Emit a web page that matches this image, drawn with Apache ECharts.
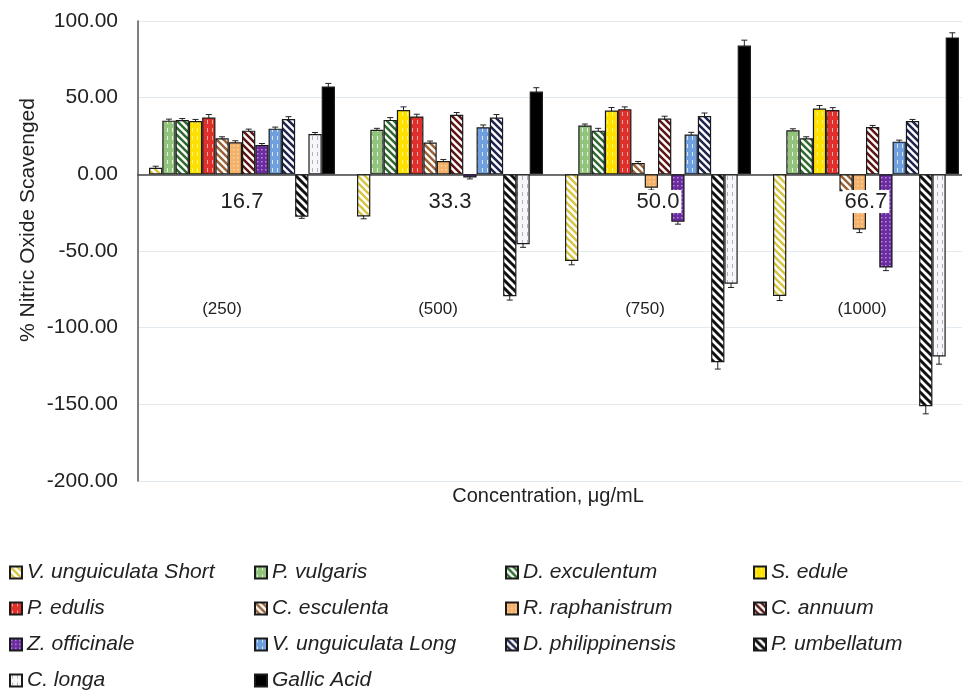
<!DOCTYPE html>
<html>
<head>
<meta charset="utf-8">
<script src="https://cdn.jsdelivr.net/npm/echarts@6/dist/echarts.min.js"></script>
<style>html,body{margin:0;padding:0;background:#fff;}#chart{width:962px;height:691px;}</style>
</head>
<body>
<div id="chart"></div>
<script>
// ---- data ----
const categories = ['16.7', '33.3', '50.0', '66.7'];
const concLabels = ['(250)', '(500)', '(750)', '(1000)'];
const seriesNames = ['V. unguiculata Short', 'P. vulgaris', 'D. exculentum', 'S. edule',
  'P. edulis', 'C. esculenta', 'R. raphanistrum', 'C. annuum',
  'Z. officinale', 'V. unguiculata Long', 'D. philippinensis', 'P. umbellatum',
  'C. longa', 'Gallic Acid'];
const vuShort = [4.3, -27.5, -56.5, -79.3];
const pVulgaris = [35.0, 29.0, 31.8, 28.7];
const dExculentum = [35.4, 35.5, 28.5, 23.5];
const sEdule = [34.8, 42.0, 41.6, 42.9];
const pEdulis = [37.0, 37.7, 42.5, 42.0];
const cEsculenta = [23.5, 20.7, 7.4, -11.0];
const rRaphanistrum = [20.9, 8.7, -8.7, -36.0];
const cAnnuum = [28.5, 38.8, 36.4, 30.9];
const zOfficinale = [19.1, -2.0, -31.0, -60.8];
const vuLong = [29.8, 30.7, 25.9, 21.3];
const dPhilippinensis = [36.1, 37.0, 38.0, 34.8];
const pUmbellatum = [-27.7, -79.5, -122.5, -151.2];
const cLonga = [26.3, -45.6, -71.3, -118.8];
const gallicAcid = [57.3, 54.0, 84.0, 89.3];
// standard errors (estimated)
const errVuShort = [1, 1.5, 2.5, 3];
const errPVulgaris = [1, 1, 1, 1];
const errDExculentum = [1, 1.5, 1.5, 1];
const errSEdule = [1, 2, 2, 2];
const errPEdulis = [2, 1.5, 1.5, 1.5];
const errCEsculenta = [1, 1, 1, 1];
const errRRaphanistrum = [1, 1, 1.5, 2];
const errCAnnuum = [1, 1.5, 1.5, 1];
const errZOfficinale = [1, 1, 1.5, 2];
const errVuLong = [1, 1.5, 1.5, 1];
const errDPhilippinensis = [1.5, 2, 2, 1];
const errPUmbellatum = [1, 2.5, 4.5, 5];
const errCLonga = [1, 2, 2.5, 5];
const errGallicAcid = [2, 2.5, 3.5, 3];

const seriesValues = [vuShort, pVulgaris, dExculentum, sEdule, pEdulis, cEsculenta,
  rRaphanistrum, cAnnuum, zOfficinale, vuLong, dPhilippinensis, pUmbellatum, cLonga, gallicAcid];
const seriesErrors = [errVuShort, errPVulgaris, errDExculentum, errSEdule, errPEdulis, errCEsculenta,
  errRRaphanistrum, errCAnnuum, errZOfficinale, errVuLong, errDPhilippinensis, errPUmbellatum, errCLonga, errGallicAcid];

// ---- styles ----
function pat(bg, kind, fg, o) {
  o = o || {};
  const w = o.w || o.s || 6, h = o.h || o.s || 6;
  const c = document.createElement('canvas');
  c.width = w; c.height = h;
  const ctx = c.getContext('2d');
  ctx.fillStyle = bg; ctx.fillRect(0, 0, w, h);
  if (kind === 'diag') {
    ctx.strokeStyle = fg; ctx.lineWidth = o.lw || 2;
    ctx.beginPath();
    for (const k of [-w, 0, w]) { ctx.moveTo(k - 1, -1); ctx.lineTo(k + w + 1, h + 1); }
    ctx.stroke();
  } else if (kind === 'vdash') {
    ctx.fillStyle = fg; ctx.fillRect(Math.floor(w / 2), 0, 1, Math.ceil(h / 2));
  } else if (kind === 'dots') {
    ctx.fillStyle = fg; ctx.fillRect(1, 1, 1.5, 1.5);
  }
  return { image: c, repeat: 'repeat' };
}
const fills = [
  pat('#ffffff', 'diag', '#d6c43e', { s: 7, lw: 2.3 }),
  pat('#93c47d', 'vdash', '#e6f3dd', { w: 5, h: 8 }),
  pat('#ffffff', 'diag', '#2e6b2e', { s: 7, lw: 2.5 }),
  pat('#ffe100', 'vdash', '#fff080', { w: 5, h: 8 }),
  pat('#e0302c', 'vdash', '#f5aaa2', { w: 5, h: 8 }),
  pat('#ffffff', 'diag', '#9a6236', { s: 7, lw: 2.5 }),
  pat('#f4b169', 'dots', '#f9d6a8', { s: 4 }),
  pat('#ffffff', 'diag', '#5e1515', { s: 7, lw: 2.5 }),
  pat('#6a2c9e', 'dots', '#b48ae0', { s: 4 }),
  pat('#6f9fdc', 'vdash', '#d8e6f7', { w: 5, h: 8 }),
  pat('#ffffff', 'diag', '#1d2550', { s: 7, lw: 2.5 }),
  pat('#ffffff', 'diag', '#111111', { s: 8, lw: 3 }),
  pat('#f7f7fa', 'vdash', '#b0b0c0', { w: 5, h: 8 }),
  '#000000'
];

const FONT = "'Liberation Sans', Arial, sans-serif";
const GAP = 0.106;

const errData = [];
seriesValues.forEach((vals, si) => vals.forEach((v, ci) => errData.push([ci, si, v, seriesErrors[si][ci]])));

const series = [{
  type: 'custom',
  name: 'err',
  data: errData,
  encode: { x: 0, y: 2 },
  z: 1,
  silent: true,
  renderItem: function (params, api) {
    const ci = api.value(0), si = api.value(1), v = api.value(2), e = api.value(3);
    const band = api.size([1, 0])[0];
    const gw = band * (1 - GAP);
    const bw = gw / seriesNames.length;
    const cx = api.coord([ci, 0])[0] - gw / 2 + bw * (si + 0.5);
    const yt = api.coord([ci, v + e])[1];
    const yb = api.coord([ci, v - e])[1];
    const st = { stroke: '#222', lineWidth: 1 };
    return {
      type: 'group',
      children: [
        { type: 'line', shape: { x1: cx, y1: yt, x2: cx, y2: yb }, style: st },
        { type: 'line', shape: { x1: cx - 3, y1: yt, x2: cx + 3, y2: yt }, style: st },
        { type: 'line', shape: { x1: cx - 3, y1: yb, x2: cx + 3, y2: yb }, style: st }
      ]
    };
  }
}];
seriesNames.forEach((name, i) => {
  series.push({
    type: 'bar',
    name: name,
    data: seriesValues[i],
    barGap: '0%',
    barCategoryGap: (GAP * 100) + '%',
    z: 2,
    itemStyle: { color: fills[i], borderColor: '#1a1a1a', borderWidth: 1.2 }
  });
});

const legendCols = [
  { names: ['V. unguiculata Short', 'P. edulis', 'Z. officinale', 'C. longa'], left: 9 },
  { names: ['P. vulgaris', 'C. esculenta', 'V. unguiculata Long', 'Gallic Acid'], left: 254 },
  { names: ['D. exculentum', 'R. raphanistrum', 'D. philippinensis'], left: 505 },
  { names: ['S. edule', 'C. annuum', 'P. umbellatum'], left: 753 }
];
const legends = legendCols.map(col => ({
  data: col.names,
  left: col.left,
  top: 562,
  padding: 0,
  orient: 'vertical',
  itemGap: 15,
  itemWidth: 12,
  itemHeight: 12,
  icon: 'rect',
  selectedMode: false,
  textStyle: { fontFamily: FONT, fontSize: 21, fontStyle: 'italic', color: '#222', lineHeight: 20, padding: [0, 0, 0, 0] }
}));

const option = {
  animation: false,
  backgroundColor: '#ffffff',
  grid: { left: 138, right: -8, top: 21, bottom: 210, containLabel: false, outerBoundsMode: 'none' },
  legend: legends,
  xAxis: [{
    type: 'category',
    data: categories,
    position: 'bottom',
    axisLine: { onZero: true, lineStyle: { color: '#444', width: 1.5 } },
    axisTick: { show: false },
    splitLine: { show: false },
    axisLabel: { show: false }
  }, {
    type: 'category',
    data: categories,
    position: 'bottom',
    offset: -307,
    z: 10,
    axisLine: { show: false },
    axisTick: { show: false },
    splitLine: { show: false },
    axisLabel: {
      fontFamily: FONT, fontSize: 22, color: '#222', margin: 16,
      backgroundColor: '#ffffff', padding: [1, 2, 0, 2]
    }
  }, {
    type: 'category',
    data: concLabels,
    position: 'bottom',
    offset: -190,
    z: 10,
    axisLine: { show: false },
    axisTick: { show: false },
    splitLine: { show: false },
    axisLabel: {
      fontFamily: FONT, fontSize: 17, color: '#222', margin: 10,
      formatter: (v, i) => '{g' + i + '|' + v + '}',
      rich: {
        g0: { fontFamily: FONT, fontSize: 17, color: '#222', padding: [0, 40, 0, 0] },
        g1: { fontFamily: FONT, fontSize: 17, color: '#222', padding: [0, 24, 0, 0] },
        g2: { fontFamily: FONT, fontSize: 17, color: '#222', padding: [0, 26, 0, 0] },
        g3: { fontFamily: FONT, fontSize: 17, color: '#222', padding: [0, 8, 0, 0] }
      }
    }
  }],
  yAxis: {
    type: 'value',
    min: -200,
    max: 100,
    interval: 50,
    axisLine: { show: true, lineStyle: { color: '#555', width: 1.5 } },
    axisTick: { show: false },
    splitLine: { show: true, lineStyle: { color: '#e2e9ef', width: 1.2 } },
    axisLabel: {
      fontFamily: FONT, fontSize: 21, color: '#222', margin: 20,
      formatter: v => v.toFixed(2)
    }
  },
  graphic: [
    {
      type: 'text', x: 28, y: 220, rotation: Math.PI / 2,
      style: { text: '% Nitric Oxide Scavenged', font: '21px ' + FONT, fill: '#222', align: 'center', verticalAlign: 'middle' }
    },
    {
      type: 'text', x: 548, y: 496,
      style: { text: 'Concentration, μg/mL', font: '20px ' + FONT, fill: '#222', align: 'center', verticalAlign: 'middle' }
    }
  ],
  series: series
};

const chart = echarts.init(document.getElementById('chart'), null, { renderer: 'canvas' });
chart.setOption(option);
</script>
</body>
</html>
